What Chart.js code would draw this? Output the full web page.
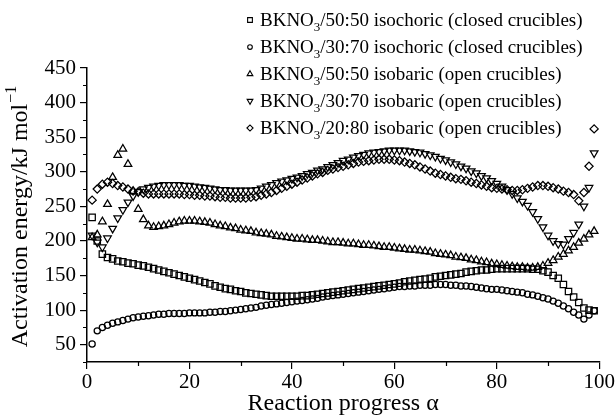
<!DOCTYPE html>
<html>
<head>
<meta charset="utf-8">
<script src="https://cdn.jsdelivr.net/npm/chart.js@4/dist/chart.umd.min.js"></script>
<style>
  html, body { margin: 0; padding: 0; background: #fff; }
</style>
</head>
<body>
<canvas id="myChart" width="616" height="415"></canvas>
<script>
// reaction progress (x values)
const alpha = [1,2,3,4,5,6,7,8,9,10,11,12,13,14,15,16,17,18,19,20,
  21,22,23,24,25,26,27,28,29,30,31,32,33,34,35,36,37,38,39,40,
  41,42,43,44,45,46,47,48,49,50,51,52,53,54,55,56,57,58,59,60,
  61,62,63,64,65,66,67,68,69,70,71,72,73,74,75,76,77,78,79,80,
  81,82,83,84,85,86,87,88,89,90,91,92,93,94,95,96,97,98,99];

// activation energy, kJ/mol
const isochoric5050 = [234,200,181,176,174,171,170,168,167,165,
  164,162,160,158,156,154,152,150,148,146,
  144,142,140,138,135,133,131,130,128,127,
  125,124,123,122,121,120,120,120,120,120,
  120,121,121,122,123,124,125,126,127,128,
  129,130,131,132,133,134,135,136,137,138,
  139,141,142,143,144,145,146,148,149,150,
  151,152,153,155,156,157,158,158,159,160,
  160,160,160,160,160,160,159,159,157,155,
  150,146,137,127,119,111,103,100,99];

const isochoric3070 = [51,70,75,78,81,83,85,87,89,90,
  91,92,93,94,94,95,95,95,95,96,
  96,96,96,97,97,98,98,99,100,101,
  102,103,104,106,107,108,109,110,111,112,
  113,114,115,116,117,119,120,121,122,123,
  124,125,126,127,128,129,130,131,132,133,
  134,134,135,135,136,136,136,137,137,137,
  136,136,135,135,134,133,132,131,130,130,
  129,128,127,126,125,123,122,120,118,116,
  113,110,106,102,97,93,87,93,99];

const isobaric5050 = [205,209,228,253,292,324,333,311,272,246,
  231,222,220,221,222,224,226,228,229,229,
  229,228,227,226,224,222,221,219,218,216,
  215,214,212,211,210,209,207,206,205,204,
  203,203,202,201,201,200,199,198,198,197,
  196,196,195,194,194,193,192,191,191,190,
  189,188,187,187,186,185,184,182,181,180,
  179,177,176,175,173,172,170,169,167,166,
  165,164,163,162,162,161,161,162,164,168,
  172,177,181,186,191,197,203,209,214];

const isobaric3070 = [208,198,191,204,218,233,245,256,265,271,
  275,277,279,280,281,281,281,281,280,280,
  279,278,277,276,275,274,274,273,273,273,
  273,273,274,276,279,281,284,286,288,290,
  292,294,297,299,302,304,307,310,313,316,
  318,321,323,325,327,328,329,330,331,331,
  331,331,330,329,328,326,324,322,319,317,
  314,311,308,305,301,298,294,291,287,283,
  279,274,268,262,257,251,242,232,220,208,
  200,196,195,203,212,224,250,277,327];

const isobaric2080 = [259,275,282,285,283,280,278,275,272,271,
  269,268,268,268,268,268,268,268,267,267,
  266,266,265,265,264,263,263,262,262,262,
  262,263,264,266,268,270,273,276,279,282,
  285,288,291,294,297,299,302,304,306,308,
  310,312,314,315,316,317,318,318,318,317,
  316,314,312,310,307,304,301,298,296,294,
  292,290,289,287,285,283,281,279,277,276,
  275,274,273,273,274,276,278,280,280,279,
  277,275,272,270,267,258,270,308,362];

const xTicks = [0, 20, 40, 60, 80, 100];
const xMinor = [10, 30, 50, 70, 90];
const yTicks = [50, 100, 150, 200, 250, 300, 350, 400, 450];
const yMinor = [25, 75, 125, 175, 225, 275, 325, 375, 425];

// legend text: main part, subscript, rest
const names = [
  ['BKNO', '3', '/50:50 isochoric (closed crucibles)'],
  ['BKNO', '3', '/30:70 isochoric (closed crucibles)'],
  ['BKNO', '3', '/50:50 isobaric (open crucibles)'],
  ['BKNO', '3', '/30:70 isobaric (open crucibles)'],
  ['BKNO', '3', '/20:80 isobaric (open crucibles)']
];
const seriesList = [isochoric5050, isochoric3070, isobaric5050, isobaric3070, isobaric2080];
const markers = [
  { style: 'rect', rot: 0, r: 4.5 },
  { style: 'circle', rot: 0, r: 3.1 },
  { style: 'triangle', rot: 0, r: 4.4 },
  { style: 'triangle', rot: 180, r: 4.4 },
  { style: 'rectRot', rot: 0, r: 4.1 }
];

const FONT = "'Liberation Serif', 'Times New Roman', serif";

var datasets = seriesList.map(function (vals, i) {
  return {
    label: names[i].join(''),
    data: alpha.map(function (a, j) { return { x: a, y: vals[j] }; }),
    showLine: false,
    pointStyle: markers[i].style,
    pointRotation: markers[i].rot,
    pointRadius: markers[i].r,
    pointHoverRadius: markers[i].r,
    pointBorderWidth: 1.25,
    borderColor: '#000',
    backgroundColor: 'rgba(0,0,0,0)'
  };
});

const extras = {
  id: 'extras',
  afterDraw(chart) {
    const ctx = chart.ctx;
    const xs = chart.scales.x, ys = chart.scales.y;
    const area = chart.chartArea;
    ctx.save();
    // minor ticks
    ctx.strokeStyle = '#000';
    ctx.lineWidth = 1.2;
    ctx.beginPath();
    yMinor.forEach(function (v) {
      var py = Math.round(ys.getPixelForValue(v)) + 0.5;
      ctx.moveTo(area.left - 4, py);
      ctx.lineTo(area.left, py);
    });
    xMinor.forEach(function (v) {
      var px = Math.round(xs.getPixelForValue(v)) + 0.5;
      ctx.moveTo(px, area.bottom);
      ctx.lineTo(px, area.bottom + 4);
    });
    ctx.stroke();

    // y axis title with superscript
    ctx.fillStyle = '#000';
    ctx.translate(21, (area.top + area.bottom) / 2 + 2);
    ctx.rotate(-Math.PI / 2);
    ctx.textBaseline = 'middle';
    ctx.font = '24px ' + FONT;
    var main = 'Activation energy/kJ mol';
    var wMain = ctx.measureText(main).width;
    ctx.font = '16px ' + FONT;
    var sup = '\u22121';
    var wSup = ctx.measureText(sup).width;
    var start = -(wMain + wSup) / 2;
    ctx.font = '24px ' + FONT;
    ctx.fillText(main, start, 0);
    ctx.font = '16px ' + FONT;
    ctx.fillText(sup, start + wMain + 1, -9);
    ctx.restore();

    // x axis title
    ctx.save();
    ctx.fillStyle = '#000';
    ctx.font = '24px ' + FONT;
    ctx.textAlign = 'center';
    ctx.textBaseline = 'alphabetic';
    ctx.fillText('Reaction progress \u03b1', (area.left + area.right) / 2, 410);
    ctx.restore();

    // legend
    ctx.save();
    ctx.fillStyle = '#000';
    ctx.strokeStyle = '#000';
    ctx.textBaseline = 'alphabetic';
    var rows = [26, 53, 80, 107, 134];
    names.forEach(function (n, i) {
      var by = rows[i];
      ctx.lineWidth = 1.1;
      ctx.fillStyle = 'rgba(0,0,0,0)';
      Chart.helpers.drawPoint(ctx, {
        pointStyle: markers[i].style,
        rotation: markers[i].rot,
        radius: markers[i].r * 0.75,
        borderWidth: 1.1
      }, 250, by - 6);
      ctx.fillStyle = '#000';
      var x = 260;
      ctx.font = '19px ' + FONT;
      ctx.fillText(n[0], x, by);
      x += ctx.measureText(n[0]).width;
      ctx.font = '13px ' + FONT;
      ctx.fillText(n[1], x, by + 5);
      x += ctx.measureText(n[1]).width;
      ctx.font = '19px ' + FONT;
      ctx.fillText(n[2], x, by);
    });
    ctx.restore();
  }
};

new Chart(document.getElementById('myChart'), {
  type: 'scatter',
  data: { datasets: datasets },
  options: {
    responsive: false,
    animation: false,
    devicePixelRatio: 1,
    layout: { padding: { top: 68, right: 16, left: 0, bottom: 0 } },
    plugins: {
      legend: { display: false },
      tooltip: { enabled: false }
    },
    scales: {
      x: {
        type: 'linear',
        min: 0,
        max: 100,
        afterBuildTicks: function (s) { s.ticks = xTicks.map(function (v) { return { value: v }; }); },
        afterFit: function (s) { s.height = 53; },
        ticks: { color: '#000', font: { family: FONT, size: 21 }, padding: 1, maxRotation: 0 },
        grid: { drawOnChartArea: false, color: '#000', tickLength: 7, lineWidth: 1.2 },
        border: { color: '#000', width: 1.5 }
      },
      y: {
        min: 25,
        max: 450,
        afterBuildTicks: function (s) { s.ticks = yTicks.map(function (v) { return { value: v }; }); },
        afterFit: function (s) { s.width = 87; },
        ticks: { color: '#000', font: { family: FONT, size: 21 }, padding: 4 },
        grid: { drawOnChartArea: false, color: '#000', tickLength: 7, lineWidth: 1.2 },
        border: { color: '#000', width: 1.5 }
      }
    }
  },
  plugins: [extras]
});
</script>
</body>
</html>
